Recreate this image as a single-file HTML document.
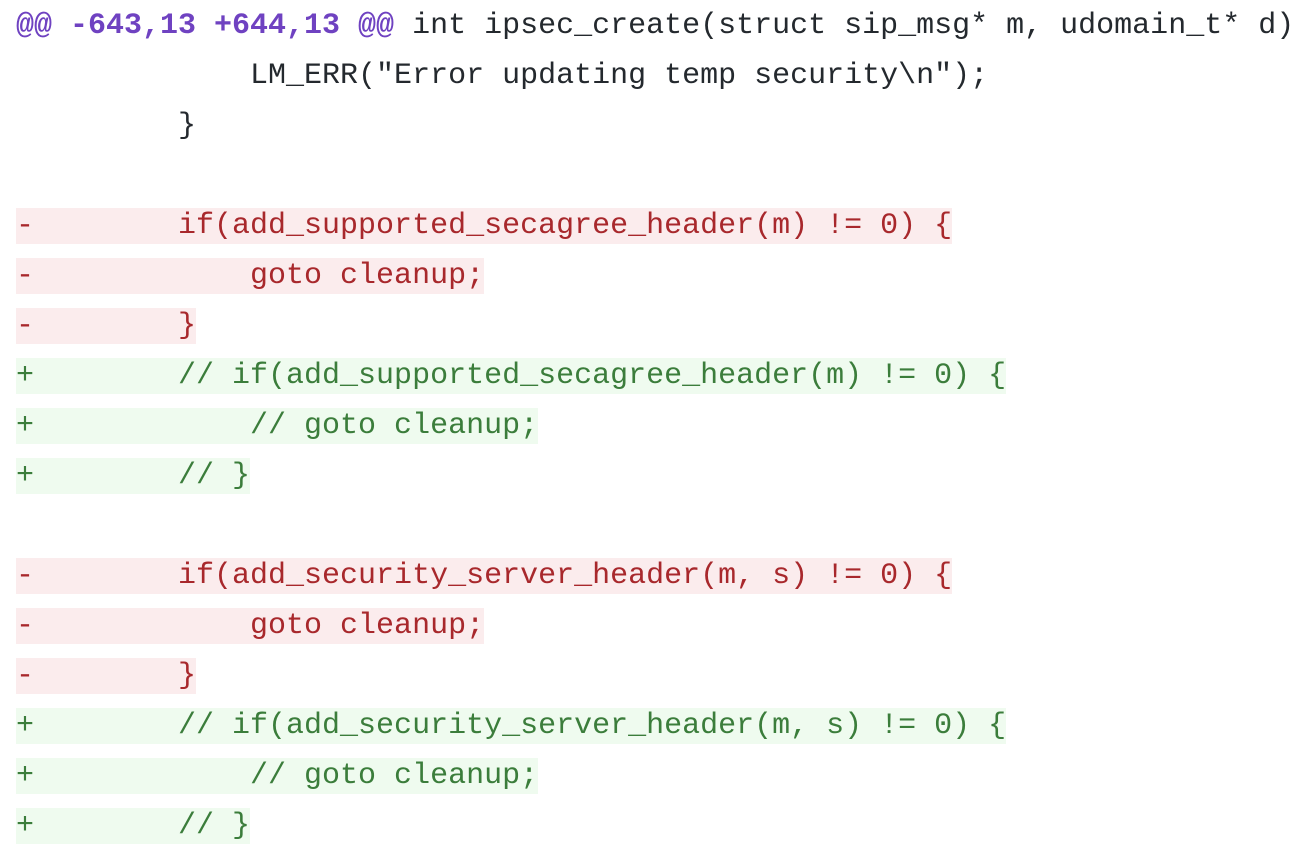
<!DOCTYPE html>
<html><head><meta charset="utf-8"><style>
body{margin:0;background:#fff;width:1298px;height:860px;overflow:hidden}
.c{position:absolute;left:16px;top:1px;font-family:"Liberation Mono",monospace;font-size:30px;}
.l{height:50px;position:relative;white-space:pre}
.l span{display:inline-block;height:36px;line-height:37px;margin-top:7px;color:#24292e}
.d span{background:#fbeced;color:#a8282c}
.a span{background:#effbef;color:#3b7d3b}
.h span{color:#6f42c1;font-weight:bold}
.h b{color:#24292e;font-weight:normal}
</style></head><body><div class="c">
<div class="l h"><span>@@ -643,13 +644,13 @@<b> int ipsec_create(struct sip_msg* m, udomain_t* d)</b></span></div>
<div class="l"><span>             LM_ERR("Error updating temp security\n");</span></div>
<div class="l"><span>         }</span></div>
<div class="l"><span> </span></div>
<div class="l d"><span>-        if(add_supported_secagree_header(m) != 0) {</span></div>
<div class="l d"><span>-            goto cleanup;</span></div>
<div class="l d"><span>-        }</span></div>
<div class="l a"><span>+        // if(add_supported_secagree_header(m) != 0) {</span></div>
<div class="l a"><span>+            // goto cleanup;</span></div>
<div class="l a"><span>+        // }</span></div>
<div class="l"><span> </span></div>
<div class="l d"><span>-        if(add_security_server_header(m, s) != 0) {</span></div>
<div class="l d"><span>-            goto cleanup;</span></div>
<div class="l d"><span>-        }</span></div>
<div class="l a"><span>+        // if(add_security_server_header(m, s) != 0) {</span></div>
<div class="l a"><span>+            // goto cleanup;</span></div>
<div class="l a"><span>+        // }</span></div>
</div></body></html>
